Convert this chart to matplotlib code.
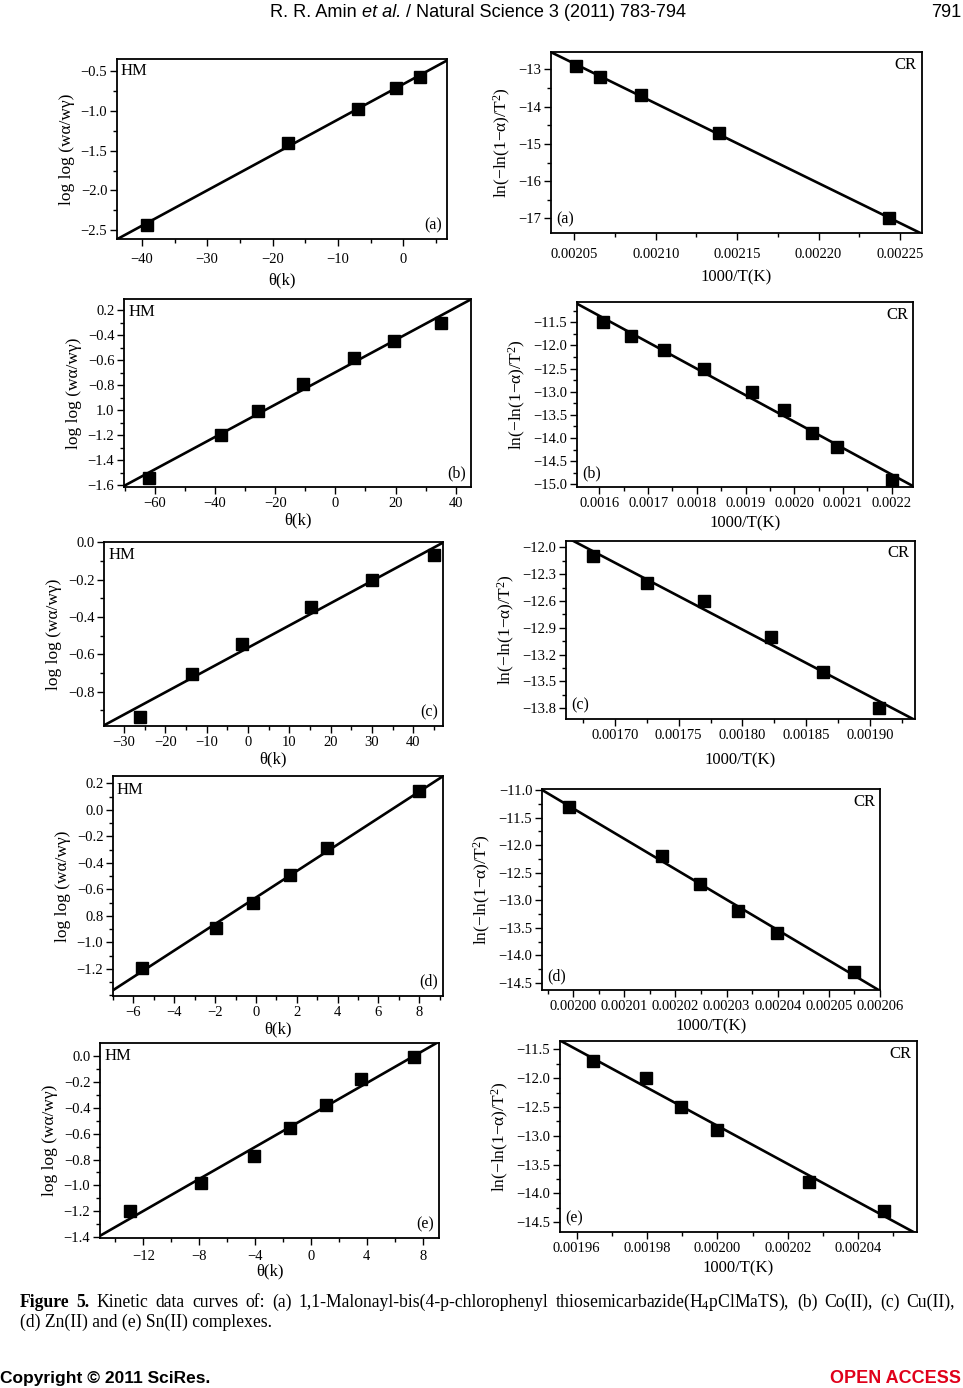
import numpy as np
import matplotlib
matplotlib.use('Agg')
import matplotlib.pyplot as plt
from matplotlib.ticker import FixedLocator, MultipleLocator

plt.rcParams['font.family'] = ['Liberation Serif', 'DejaVu Serif']
plt.rcParams['mathtext.fontset'] = 'custom'
plt.rcParams['mathtext.rm'] = 'Liberation Serif'
plt.rcParams['mathtext.it'] = 'Liberation Serif:italic'

W, H = 963, 1388

# ---- data ----
# (a) H4pClMaTS
a_hm_x = [-39.2, -17.6, -6.9, -1.1, 2.5]
a_hm_y = [-2.43, -1.40, -0.98, -0.72, -0.57]
a_cr_x = [0.002051, 0.002066, 0.002091, 0.002139, 0.002243]
a_cr_y = [-12.9, -13.2, -13.7, -14.7, -17.0]
# (b) Co(II)
b_hm_x = [-62.0, -38.2, -25.6, -10.9, 6.3, 19.4, 35.0]
b_hm_y = [-1.54, -1.20, -1.01, -0.79, -0.58, -0.45, -0.30]
b_cr_x = [0.001607, 0.001664, 0.001733, 0.001814, 0.001913, 0.001978, 0.002037, 0.002088, 0.002200]
b_cr_y = [-11.5, -11.8, -12.1, -12.5, -13.0, -13.4, -13.9, -14.2, -14.9]
# (c) Cu(II)
c_hm_x = [-26.1, -13.4, -1.4, 15.2, 30.0, 45.1]
c_hm_y = [-0.934, -0.705, -0.545, -0.347, -0.199, -0.070]
c_cr_x = [0.0016825, 0.0017249, 0.0017700, 0.0018224, 0.0018630, 0.0019073]
c_cr_y = [-12.1, -12.4, -12.6, -13.0, -13.4, -13.8]
# (d) Zn(II)
d_hm_x = [-5.6, -1.95, -0.13, 1.67, 3.5, 8.0]
d_hm_y = [-1.19, -0.89, -0.70, -0.49, -0.29, 0.14]
d_cr_x = [0.0019992, 0.0020174, 0.0020248, 0.0020323, 0.0020398, 0.0020550]
d_cr_y = [-11.3, -12.2, -12.7, -13.2, -13.6, -14.3]
# (e) Sn(II)
e_hm_x = [-12.95, -7.85, -4.05, -1.5, 1.06, 3.6, 7.4]
e_hm_y = [-1.20, -0.98, -0.77, -0.56, -0.38, -0.18, -0.01]
e_cr_x = [0.0019647, 0.0019796, 0.0019898, 0.0019999, 0.0020260, 0.0020474]
e_cr_y = [-11.7, -12.0, -12.5, -12.9, -13.8, -14.3]

# tick labels as printed (including the misprints of the original)
b_hm_yticklabels = ['0.2', '−0.4', '−0.6', '−0.8', '1.0', '−1.2', '−1.4', '−1.6']
d_hm_yticklabels = ['0.2', '0.0', '−0.2', '−0.4', '−0.6', '0.8', '−1.0', '−1.2']

hm_ylabel = 'log log (wα/wγ)'
cr_ylabel = 'ln(−ln(1−α)/T$^2$)'
hm_xlabel = 'θ(k)'
cr_xlabel = '1000/T(K)'


def fmt(v, nd):
    s = ('%.' + str(nd) + 'f') % v
    return s.replace('-', '−')


def box(l, t, r, b):
    return [l / W, 1 - b / H, (r - l) / W, (b - t) / H]


fig = plt.figure(figsize=(W / 100, H / 100), dpi=100)


def panel(rect, x, y, xlim, ylim, xt, xnd, xminor, yt, ynd, yminor, kind, letter,
          ylabels=None, tpad=2, lpad=None):
    ax = fig.add_axes(box(*rect))
    ax.plot(x, y, 's', color='black', ms=9, zorder=3, clip_on=False)
    k, c0 = np.polyfit(x, y, 1)
    xx = np.array(xlim)
    ax.plot(xx, k * xx + c0, '-', color='black', lw=1.9)
    ax.set_xlim(*xlim)
    ax.set_ylim(*ylim)
    ax.xaxis.set_major_locator(FixedLocator(xt))
    ax.set_xticklabels([fmt(v, xnd) for v in xt])
    ax.xaxis.set_minor_locator(MultipleLocator(xminor))
    ax.yaxis.set_major_locator(FixedLocator(yt))
    if ylabels is None:
        ylabels = [fmt(v, ynd) for v in yt]
    ax.set_yticklabels(ylabels)
    ax.yaxis.set_minor_locator(MultipleLocator(yminor))
    ax.tick_params(which='both', direction='out', top=False, right=False,
                   labelsize=10.5, width=1.0)
    ax.tick_params(which='major', length=5, pad=2)
    ax.tick_params(axis='x', which='major', pad=tpad)
    ax.tick_params(which='minor', length=3)
    for s in ax.spines.values():
        s.set_linewidth(1.3)
    if kind == 'HM':
        ax.text(0.012, 0.975, 'HM', transform=ax.transAxes, ha='left', va='top', fontsize=12)
        ax.text(0.985, 0.03, letter, transform=ax.transAxes, ha='right', va='bottom', fontsize=11.5)
        ax.set_xlabel(hm_xlabel, fontsize=12, labelpad=2 if lpad is None else lpad)
        ax.set_ylabel(hm_ylabel, fontsize=12.5, labelpad=4)
    else:
        ax.text(0.985, 0.975, 'CR', transform=ax.transAxes, ha='right', va='top', fontsize=12)
        ax.text(0.015, 0.03, letter, transform=ax.transAxes, ha='left', va='bottom', fontsize=11.5)
        ax.set_xlabel(cr_xlabel, fontsize=12, labelpad=4 if lpad is None else lpad)
        ax.set_ylabel(cr_ylabel, fontsize=12.5, labelpad=4)
    return ax


# (a)
panel((117, 59, 447, 239), a_hm_x, a_hm_y, (-43.8, 6.7), (-2.61, -0.35),
      [-40, -30, -20, -10, 0], 0, 5, [-2.5, -2.0, -1.5, -1.0, -0.5], 1, 0.25, 'HM', '(a)',
      tpad=5, lpad=5)
panel((551, 52, 922, 233), a_cr_x, a_cr_y, (0.0020357, 0.0022635), (-17.39, -12.535),
      [0.00205, 0.00210, 0.00215, 0.00220, 0.00225], 5, 0.000025,
      [-17, -16, -15, -14, -13], 0, 0.5, 'CR', '(a)', tpad=6, lpad=6)
# (b)
panel((124, 299, 471, 487), b_hm_x, b_hm_y, (-70.3, 45.1), (-1.616, -0.112),
      [-60, -40, -20, 0, 20, 40], 0, 10,
      [-0.2, -0.4, -0.6, -0.8, -1.0, -1.2, -1.4, -1.6], 1, 0.1, 'HM', '(b)',
      ylabels=b_hm_yticklabels)
panel((577, 302, 913, 487), b_cr_x, b_cr_y, (0.001554, 0.0022437), (-15.06, -11.06),
      [0.0016, 0.0017, 0.0018, 0.0019, 0.0020, 0.0021, 0.0022], 4, 0.00005,
      [-15.0, -14.5, -14.0, -13.5, -13.0, -12.5, -12.0, -11.5], 1, 0.25, 'CR', '(b)')
# (c)
panel((104, 542, 443, 726), c_hm_x, c_hm_y, (-34.8, 47.2), (-0.984, 0.002),
      [-30, -20, -10, 0, 10, 20, 30, 40], 0, 5,
      [-0.8, -0.6, -0.4, -0.2, 0.0], 1, 0.1, 'HM', '(c)')
panel((566, 541, 915, 719), c_cr_x, c_cr_y, (0.0016616, 0.0019353), (-13.92, -11.93),
      [0.00170, 0.00175, 0.00180, 0.00185, 0.00190], 5, 0.000025,
      [-13.8, -13.5, -13.2, -12.9, -12.6, -12.3, -12.0], 1, 0.15, 'CR', '(c)', lpad=8)
# (d)
panel((113, 776, 443, 996), d_hm_x, d_hm_y, (-7.0, 9.16), (-1.404, 0.255),
      [-6, -4, -2, 0, 2, 4, 6, 8], 0, 1,
      [0.2, 0.0, -0.2, -0.4, -0.6, -0.8, -1.0, -1.2], 1, 0.1, 'HM', '(d)',
      ylabels=d_hm_yticklabels)
panel((542, 789, 880, 990), d_cr_x, d_cr_y, (0.0019939, 0.00206), (-14.63, -10.98),
      [0.00200, 0.00201, 0.00202, 0.00203, 0.00204, 0.00205, 0.00206], 5, 0.000005,
      [-14.5, -14.0, -13.5, -13.0, -12.5, -12.0, -11.5, -11.0], 1, 0.25, 'CR', '(d)')
# (e)
panel((100, 1043, 439, 1238), e_hm_x, e_hm_y, (-15.1, 9.17), (-1.405, 0.098),
      [-12, -8, -4, 0, 4, 8], 0, 2,
      [-1.4, -1.2, -1.0, -0.8, -0.6, -0.4, -0.2, 0.0], 1, 0.1, 'HM', '(e)',
      tpad=4, lpad=0)
panel((560, 1041, 917, 1232), e_cr_x, e_cr_y, (0.0019553, 0.0020567), (-14.668, -11.356),
      [0.00196, 0.00198, 0.00200, 0.00202, 0.00204], 5, 0.00001,
      [-14.5, -14.0, -13.5, -13.0, -12.5, -12.0, -11.5], 1, 0.25, 'CR', '(e)')

# ---- page text ----
renderer = fig.canvas.get_renderer()


def run_text(x, y, pieces, **kw):
    # pieces placed one after another along a baseline (pixel coords, y from top)
    for s, extra in pieces:
        opts = dict(kw)
        opts.update(extra)
        t = fig.text(x / W, 1 - y / H, s, ha='left', va='baseline', **opts)
        x = x + t.get_window_extent(renderer).width


def justified(x0, x1, y, words, **kw):
    # words: list of (text, extra style); spread them evenly between x0 and x1
    objs = []
    total = 0
    for s, extra in words:
        opts = dict(kw)
        opts.update(extra)
        t = fig.text(0, 1 - y / H, s, ha='left', va='baseline', **opts)
        w = t.get_window_extent(renderer).width
        objs.append((t, w))
        total += w
    gap = (x1 - x0 - total) / (len(objs) - 1)
    x = x0
    for t, w in objs:
        t.set_x(x / W)
        x += w + gap


sans = ['Liberation Sans Narrow', 'Liberation Sans', 'DejaVu Sans']
run_text(270, 17, [('R. R. Amin ', {}), ('et al.', {'style': 'italic'}),
                   (' / Natural Science 3 (2011) 783-794', {})],
         family=sans, fontsize=13.1)
fig.text(961 / W, 1 - 17 / H, '791', ha='right', va='baseline', family=sans, fontsize=13.1)

cap1 = ('Kinetic data curves of: (a) 1,1-Malonayl-bis(4-p-chlorophenyl '
        'thiosemicarbazide(H$_4$pClMaTS), (b) Co(II), (c) Cu(II),')
words = [('Figure', {'weight': 'bold'}), ('5.', {'weight': 'bold'})]
words += [(w, {}) for w in cap1.split(' ')]
justified(20, 955, 1307, words, fontsize=12.7)
fig.text(20 / W, 1 - 1327 / H, '(d) Zn(II) and (e) Sn(II) complexes.', ha='left',
         va='baseline', fontsize=12.7)

fig.text(0, 1 - 1383 / H, 'Copyright © 2011 SciRes.', ha='left', va='baseline',
         family=sans, fontsize=12.5, weight='bold')
fig.text(961 / W, 1 - 1383 / H, 'OPEN ACCESS', ha='right', va='baseline',
         family=sans, fontsize=13, weight='bold', color='#e0001a')

fig.savefig('out.png', dpi=100)
